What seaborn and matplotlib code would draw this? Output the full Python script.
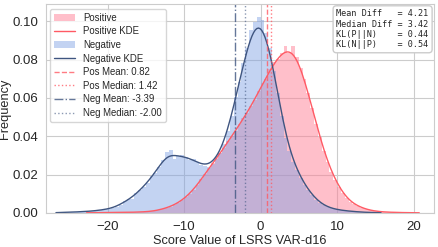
import numpy as np
import pandas as pd
import seaborn as sns
import matplotlib.pyplot as plt

# densidades (bins de 0.5)
bin_width = 0.5
neg_start = -27.0
neg_density = [
    0.0002, 0.0002, 0.0003, 0.0003, 0.0004, 0.0005, 0.0006, 0.0007,
    0.0008, 0.0009, 0.0011, 0.0013, 0.0016, 0.0019, 0.0022, 0.0027,
    0.0033, 0.0045, 0.0065, 0.0072, 0.0075, 0.0105, 0.0125, 0.0140,
    0.0160, 0.0195, 0.0215, 0.0245, 0.0285, 0.0325, 0.0335, 0.0290,
    0.0305, 0.0310, 0.0300, 0.0285, 0.0290, 0.0270, 0.0255, 0.0250,
    0.0248, 0.0262, 0.0290, 0.0320, 0.0370, 0.0440, 0.0520, 0.0620,
    0.0700, 0.0800, 0.0880, 0.0980, 0.1020, 0.1050, 0.1030, 0.0960,
    0.0880, 0.0760, 0.0640, 0.0520, 0.0400, 0.0330, 0.0270, 0.0230,
    0.0185, 0.0150, 0.0120, 0.0095, 0.0070, 0.0052, 0.0040, 0.0030,
    0.0024, 0.0019, 0.0016, 0.0013, 0.0011, 0.0009, 0.0007, 0.0006,
    0.0004, 0.0003, 0.0002, 0.0002, 0.0001, 0.0001,
]
pos_start = -23.0
pos_density = [
    0.0001, 0.0001, 0.0001, 0.0001, 0.0001, 0.0002, 0.0002, 0.0002,
    0.0002, 0.0003, 0.0003, 0.0003, 0.0004, 0.0004, 0.0005, 0.0006,
    0.0007, 0.0008, 0.0012, 0.0016, 0.0022, 0.0028, 0.0035, 0.0044,
    0.0055, 0.0070, 0.0085, 0.0105, 0.0128, 0.0155, 0.0185, 0.0215,
    0.0245, 0.0275, 0.0300, 0.0330, 0.0360, 0.0395, 0.0425, 0.0450,
    0.0490, 0.0520, 0.0550, 0.0590, 0.0620, 0.0670, 0.0715, 0.0740,
    0.0790, 0.0830, 0.0850, 0.0880, 0.0920, 0.0880, 0.0920, 0.0860,
    0.0800, 0.0740, 0.0660, 0.0580, 0.0490, 0.0420, 0.0340, 0.0280,
    0.0225, 0.0180, 0.0140, 0.0110, 0.0080, 0.0060, 0.0047, 0.0036,
    0.0028, 0.0020, 0.0015, 0.0011, 0.0008, 0.0006, 0.0005, 0.0004,
    0.0003, 0.0003, 0.0002, 0.0002, 0.0001, 0.0001, 0.0001, 0.0001,
]

pos_mean, pos_median = 0.82, 1.42
neg_mean, neg_median = -3.39, -2.00
stats_names = ["Mean Diff", "Median Diff", "KL(P||N)", "KL(N||P)"]
stats_values = [4.21, 3.42, 0.44, 0.54]

neg_centers = neg_start + bin_width * (np.arange(len(neg_density)) + 0.5)
pos_centers = pos_start + bin_width * (np.arange(len(pos_density)) + 0.5)
df_neg = pd.DataFrame({'score': neg_centers, 'w': neg_density})
df_pos = pd.DataFrame({'score': pos_centers, 'w': pos_density})
neg_range = (neg_start, neg_start + bin_width * len(neg_density))
pos_range = (pos_start, pos_start + bin_width * len(pos_density))

sns.set_style("whitegrid")
plt.rcParams['font.family'] = ['Liberation Sans', 'DejaVu Sans']

pos_color = '#ff5a64'
neg_color = '#3f5580'

fig = plt.figure(figsize=(4.39, 2.47), dpi=100)
ax = fig.add_axes([0.104, 0.138, 0.885, 0.846])

sns.histplot(data=df_pos, x='score', weights='w', binwidth=bin_width, binrange=pos_range,
             stat='density', color='#ff8096', alpha=0.5, linewidth=0, label='Positive', ax=ax)
sns.kdeplot(data=df_pos, x='score', weights='w', bw_adjust=0.33, cut=0,
            color=pos_color, linewidth=1, label='Positive KDE', ax=ax)
sns.histplot(data=df_neg, x='score', weights='w', binwidth=bin_width, binrange=neg_range,
             stat='density', color='#7a9ee3', alpha=0.45, linewidth=0, label='Negative', ax=ax)
sns.kdeplot(data=df_neg, x='score', weights='w', bw_adjust=0.3, cut=0,
            color=neg_color, linewidth=1, label='Negative KDE', ax=ax)

ax.axvline(pos_mean, color=pos_color, linestyle='--', linewidth=1, alpha=0.8,
           label=f'Pos Mean: {pos_mean:.2f}')
ax.axvline(pos_median, color=pos_color, linestyle=':', linewidth=1, alpha=0.8,
           label=f'Pos Median: {pos_median:.2f}')
ax.axvline(neg_mean, color=neg_color, linestyle='-.', linewidth=1, alpha=0.8,
           label=f'Neg Mean: {neg_mean:.2f}')
ax.axvline(neg_median, color=neg_color, linestyle=':', linewidth=1, alpha=0.6,
           label=f'Neg Median: {neg_median:.2f}')

ax.set_xlim(-28.1, 22.7)
ax.set_ylim(0, 0.109)
ax.set_xlabel("Score Value of LSRS VAR-d16", fontsize=9.2, labelpad=2)
ax.set_ylabel("Frequency", fontsize=9.2, labelpad=1)
ax.tick_params(labelsize=9.5, pad=2)

# orden de la leyenda como en el original
handles, labels = ax.get_legend_handles_labels()
order = ['Positive', 'Positive KDE', 'Negative', 'Negative KDE']
order += [l for l in labels if l not in order]
hmap = dict(zip(labels, handles))
ax.legend([hmap[l] for l in order], order, loc='upper left', fontsize=6.9,
          borderaxespad=0.5, handlelength=2.2, labelspacing=0.38)

txt = "\n".join(f"{n:<11} = {v:.2f}" for n, v in zip(stats_names, stats_values))
ax.text(0.986, 0.975, txt, transform=ax.transAxes, ha='right', va='top',
        family='DejaVu Sans Mono', fontsize=6.1,
        bbox=dict(boxstyle='round,pad=0.4', facecolor='white', edgecolor='0.8'))

plt.savefig("out.png", dpi=100)
